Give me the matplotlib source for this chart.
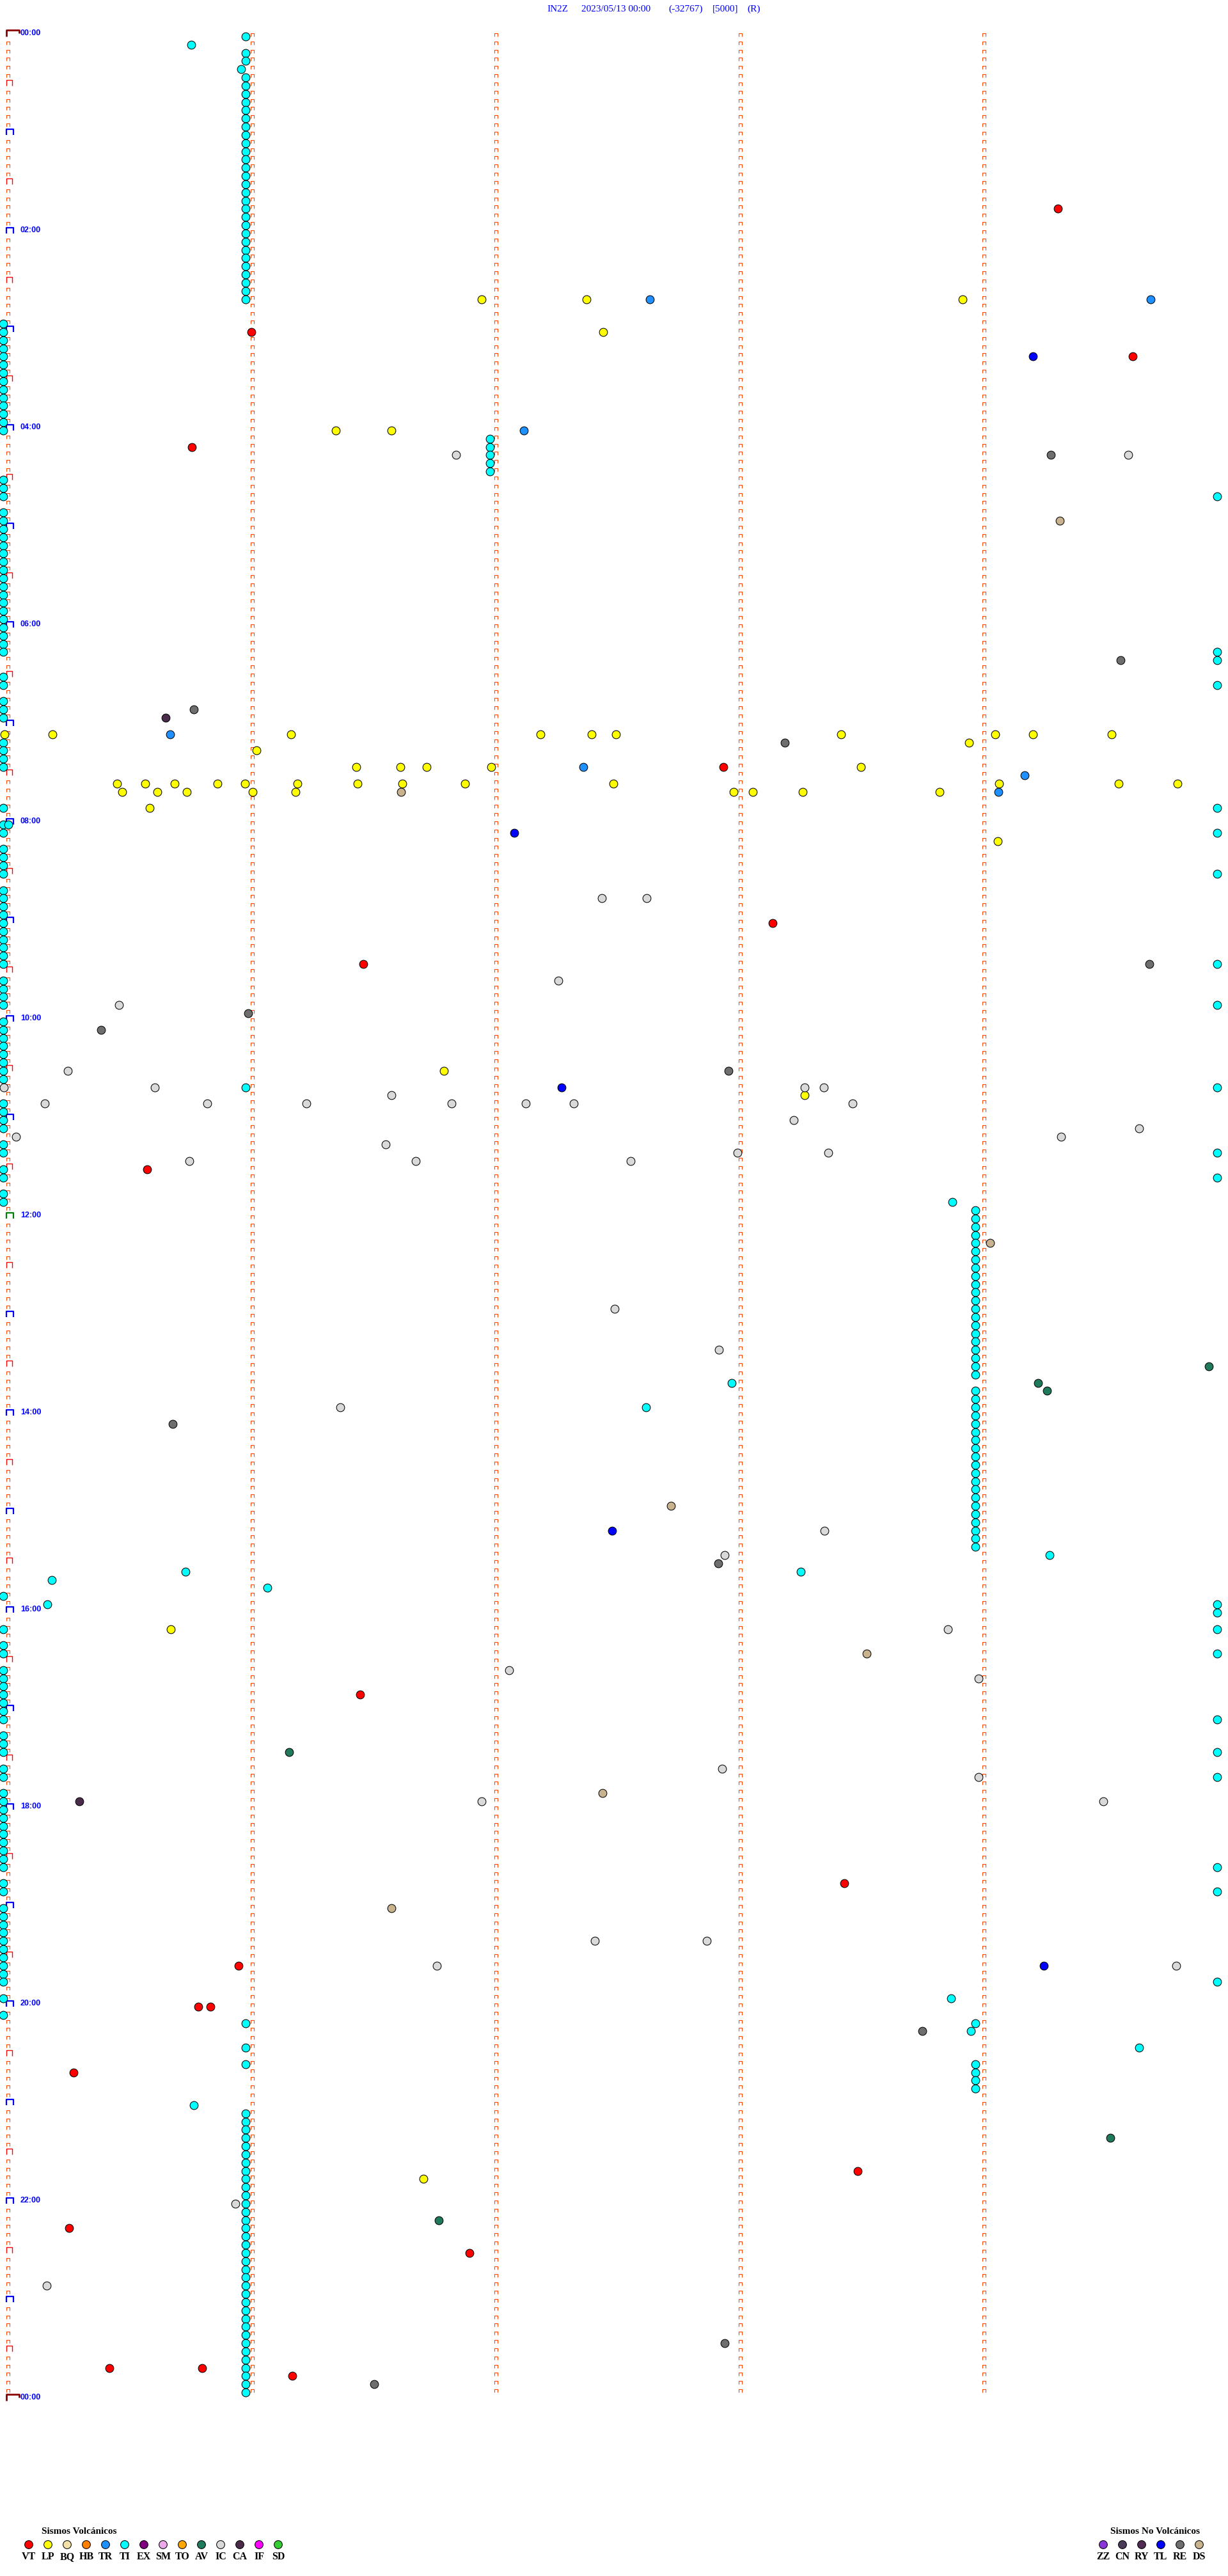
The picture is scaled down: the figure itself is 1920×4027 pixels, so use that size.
import matplotlib.pyplot as plt
from matplotlib.collections import LineCollection

# helicorder IN2Z, one line = 5 minutes, 288 lines for the day
# every event is (line, minute inside the line)

title_parts = ["IN2Z", "2023/05/13 00:00", "(-32767)", "[5000]", "(R)"]
hour_labels = ["00:00", "02:00", "04:00", "06:00", "08:00", "10:00", "12:00",
               "14:00", "16:00", "18:00", "20:00", "22:00", "00:00"]

volcanic_codes = ["VT", "LP", "BQ", "HB", "TR", "TI", "EX", "SM", "TO", "AV", "IC", "CA", "IF", "SD"]
non_volcanic_codes = ["ZZ", "CN", "RY", "TL", "RE", "DS"]
type_colors = {
    "VT": "#FF0000", "LP": "#FFFF00", "BQ": "#F2E2A8", "HB": "#FF8000", "TR": "#1E90FF",
    "TI": "#00FFFF", "EX": "#800080", "SM": "#EBA8EB", "TO": "#FFA500", "AV": "#1F7A5C",
    "IC": "#D9D9D9", "CA": "#4A2C4A", "IF": "#FF00FF", "SD": "#33CC33",
    "ZZ": "#8A35D8", "CN": "#4A3A5A", "RY": "#512C52", "TL": "#0000FF", "RE": "#6E6E6E",
    "DS": "#C9B28E",
}

# tremor (TI) bands: lines that carry a TI at the same minute
ti_left_minute = 0.0
ti_left_rows = [35, 36, 37, 38, 39, 40, 41, 42, 43, 44, 45, 46, 47, 48, 54, 55, 56,
                58, 59, 60, 61, 62, 63, 64, 65, 66, 67, 68, 69, 70, 71, 72, 73, 74, 75,
                78, 79, 81, 82, 83, 86, 87, 88, 89, 94, 96, 97, 99, 100, 101, 102,
                104, 105, 106, 107, 108, 109, 110, 111, 112, 113, 115, 116, 117, 118,
                120, 121, 122, 123, 124, 125, 126, 127, 130, 131, 132, 133, 135, 136,
                138, 139, 141, 142, 190, 194, 196, 197, 199, 200, 201, 202, 203, 204, 205,
                207, 208, 209, 211, 212, 214, 215, 216, 217, 218, 219, 220, 221, 222, 223,
                225, 226, 228, 229, 230, 231, 232, 233, 234, 235, 236, 237, 239, 241]
ti_right_minute = 4.975
ti_right_rows = [56, 75, 76, 79, 94, 97, 102, 113, 118, 128, 136, 139, 191, 192, 194,
                 197, 205, 209, 212, 223, 226, 237]
ti_min1 = 0.994
ti_min1_rows = [0, 2, 3, 5, 6, 7, 8, 9, 10, 11, 12, 13, 14, 15, 16, 17, 18, 19, 20, 21,
                22, 23, 24, 25, 26, 27, 28, 29, 30, 31, 32, 242, 245, 247,
                253, 254, 255, 256, 257, 258, 259, 260, 261, 262, 263, 264, 265, 266, 267,
                268, 269, 270, 271, 272, 273, 274, 275, 276, 277, 278, 279, 280, 281, 282,
                283, 284, 285, 286, 287]
ti_min2 = 1.993
ti_min2_rows = [49, 50, 51, 52, 53]
ti_min4 = 3.982
ti_min4_rows = [143, 144, 145, 146, 147, 148, 149, 150, 151, 152, 153, 154, 155, 156, 157,
                158, 159, 160, 161, 162, 163, 165, 166, 167, 168, 169, 170, 171, 172, 173,
                174, 175, 176, 177, 178, 179, 180, 181, 182, 183, 184, 242, 247, 248, 249, 250]
ti_other = [(1, 0.77), (4, 0.975), (128, 0.994), (142, 3.889), (164, 2.984), (167, 2.634),
            (185, 4.287), (187, 0.747), (187, 3.267), (188, 0.199), (189, 1.081),
            (191, 0.18), (239, 3.883), (243, 3.966), (245, 4.653), (252, 0.78), (96, 0.02)]

vt_events = [(21, 4.32), (36, 1.017), (39, 4.627), (50, 0.773), (89, 2.95), (108, 3.153),
             (113, 1.476), (138, 0.59), (202, 1.462), (225, 3.447), (235, 0.964),
             (240, 0.800), (240, 0.849), (248, 0.289), (260, 3.500), (267, 0.270),
             (270, 1.910), (284, 0.434), (284, 0.815), (285, 1.184)]
lp_events = [(32, 1.96), (32, 2.39), (32, 3.93), (36, 2.458), (48, 1.363), (48, 1.59),
             (85, 0.005), (85, 0.203), (85, 1.178), (85, 2.202), (85, 2.41), (85, 2.511),
             (85, 3.432), (85, 4.065), (85, 4.22), (85, 4.542), (86, 3.958), (87, 1.037),
             (89, 1.447), (89, 1.628), (89, 1.735), (89, 2.0), (89, 3.513),
             (91, 0.467), (91, 0.583), (91, 0.701), (91, 0.877), (91, 0.99), (91, 1.206),
             (91, 1.452), (91, 1.634), (91, 1.893), (91, 2.501), (91, 4.08), (91, 4.569),
             (91, 4.811), (92, 0.487), (92, 0.631), (92, 0.752), (92, 1.023), (92, 1.197),
             (92, 2.992), (92, 3.07), (92, 3.276), (92, 3.836), (94, 0.601), (98, 4.075),
             (126, 1.806), (129, 3.283), (194, 0.686), (261, 1.723)]
tr_events = [(32, 2.65), (32, 4.70), (48, 2.134), (85, 0.683), (89, 2.378), (90, 4.185),
             (92, 4.078)]
tl_events = [(39, 4.22), (97, 2.094), (128, 2.288), (182, 2.496), (235, 4.264)]
ic_events = [(51, 1.855), (51, 4.61), (105, 2.453), (105, 2.635), (115, 2.275), (118, 0.474),
             (126, 0.264), (128, 0.003), (128, 0.62), (128, 3.283), (128, 3.363), (129, 1.59),
             (130, 0.17), (130, 0.835), (130, 1.243), (130, 1.836), (130, 2.141), (130, 2.337),
             (130, 3.48), (132, 3.238), (133, 4.653), (134, 0.052), (134, 4.334), (135, 1.568),
             (136, 3.009), (136, 3.38), (137, 0.762), (137, 1.69), (137, 2.572), (155, 2.506),
             (160, 2.933), (167, 1.38), (182, 3.365), (185, 2.955), (194, 3.87), (199, 2.074),
             (200, 3.997), (211, 2.946), (212, 3.997), (215, 1.959), (215, 4.508),
             (232, 2.424), (232, 2.883), (235, 1.777), (235, 4.807), (264, 0.951),
             (274, 0.178)]
re_events = [(51, 4.293), (76, 4.577), (82, 0.78), (86, 3.203), (113, 4.695), (119, 1.004),
             (121, 0.401), (126, 2.971), (169, 0.695), (186, 2.93), (243, 3.767),
             (281, 2.955), (286, 1.52)]
ca_events = [(83, 0.665), (215, 0.312)]
av_events = [(162, 4.94), (164, 4.24), (165, 4.277), (209, 1.171), (256, 4.535), (266, 1.785)]
ds_events = [(59, 4.329), (92, 1.63), (147, 4.044), (179, 2.735), (197, 3.539), (214, 2.455),
             (228, 1.59)]

# pixel geometry of the original page
PX_MIN = 381.6    # pixels per minute
PX_ROW = 12.833   # pixels per 5-minute line
X0, Y0 = 5, 57    # pixel of minute 0 / line 0
W, H = 1920, 4027


def dx(px):
    return px / PX_MIN


def dy(px):
    return px / PX_ROW


fig = plt.figure(figsize=(W / 100, H / 100), dpi=100)
ax = fig.add_axes([0, 0, 1, 1])
ax.set_xlim(-X0 / PX_MIN, (W - X0) / PX_MIN)
ax.set_ylim((H - Y0) / PX_ROW, -Y0 / PX_ROW)
ax.axis("off")

# the flat traces only show their small minute marks
small = []
for r in range(288):
    for k in range(5):
        if k == 0 and r % 6 == 0:
            continue
        x0 = dx(10 + 381.5 * k - X0)
        x1 = x0 + dx(5)
        small.append([(x0, r), (x0, r - dy(5)), (x1, r - dy(5)), (x1, r)])
ax.add_collection(LineCollection(small, colors="#FF4500", linewidths=0.8))

big_red, big_blue, big_green, dark = [], [], [], []
for r in range(0, 289, 6):
    x0 = dx(10 - X0)
    if r % 288 == 0:
        x1 = x0 + dx(20)
        dark.append([(x0, r), (x0, r - dy(10)), (x1, r - dy(10)), (x1, r - dy(5))])
    elif r % 12 == 6:
        x1 = x0 + dx(9)
        big_red.append([(x0, r), (x0, r - dy(9)), (x1, r - dy(9)), (x1, r)])
    elif r == 144:
        x1 = x0 + dx(11)
        big_green.append([(x0, r), (x0, r - dy(9)), (x1, r - dy(9)), (x1, r)])
    else:
        x1 = x0 + dx(11)
        big_blue.append([(x0, r), (x0, r - dy(9)), (x1, r - dy(9)), (x1, r)])
ax.add_collection(LineCollection(big_red, colors="#FF0000", linewidths=1.0))
ax.add_collection(LineCollection(big_blue, colors="#0000FF", linewidths=1.6))
ax.add_collection(LineCollection(big_green, colors="#007F00", linewidths=1.6))
ax.add_collection(LineCollection(dark, colors="#8B0000", linewidths=2.0))

for i, lab in enumerate(hour_labels):
    ax.text(dx(32 - X0), 24 * i - dy(5), lab, ha="left", va="center", color="#0000FF",
            fontsize=9, fontweight="bold", family="Liberation Sans")

# events
ti_events = ([(r, ti_left_minute) for r in ti_left_rows]
             + [(r, ti_min1) for r in ti_min1_rows]
             + [(r, ti_min2) for r in ti_min2_rows]
             + [(r, ti_min4) for r in ti_min4_rows]
             + [(r, ti_right_minute) for r in ti_right_rows]
             + ti_other)
ti_events.sort()

layers = [("TI", ti_events), ("LP", lp_events), ("TR", tr_events), ("IC", ic_events),
          ("RE", re_events), ("CA", ca_events), ("AV", av_events), ("DS", ds_events),
          ("TL", tl_events), ("VT", vt_events)]
for code, ev in layers:
    rows = [e[0] for e in ev]
    mins = [e[1] for e in ev]
    ax.scatter(mins, rows, s=84, c=type_colors[code], edgecolors="black",
               linewidths=0.75, zorder=3)

# header and legend in page pixels
lax = fig.add_axes([0, 0, 1, 1])
lax.set_xlim(0, W)
lax.set_ylim(H, 0)
lax.axis("off")

title_x = [855, 909, 1045, 1114, 1168]
for x, t in zip(title_x, title_parts):
    lax.text(x, 14, t, ha="left", va="center", color="#0000FF", fontsize=11,
             family="Liberation Serif")

lax.text(124, 3957, "Sismos Volcánicos", ha="center", va="center", fontsize=11,
         fontweight="bold", family="Liberation Serif")
lax.text(1806, 3957, "Sismos No Volcánicos", ha="center", va="center", fontsize=11,
         fontweight="bold", family="Liberation Serif")

for start, codes in [(45, volcanic_codes), (1725, non_volcanic_codes)]:
    xs = [start + 30 * i for i in range(len(codes))]
    lax.scatter(xs, [3978] * len(codes), s=84, c=[type_colors[c] for c in codes],
                edgecolors="black", linewidths=0.75)
    for x, c in zip(xs, codes):
        lax.text(x, 3997, c, ha="center", va="center", fontsize=11.5, fontweight="bold",
                 family="Liberation Serif")

fig.savefig("out.png", dpi=100, facecolor="white")
